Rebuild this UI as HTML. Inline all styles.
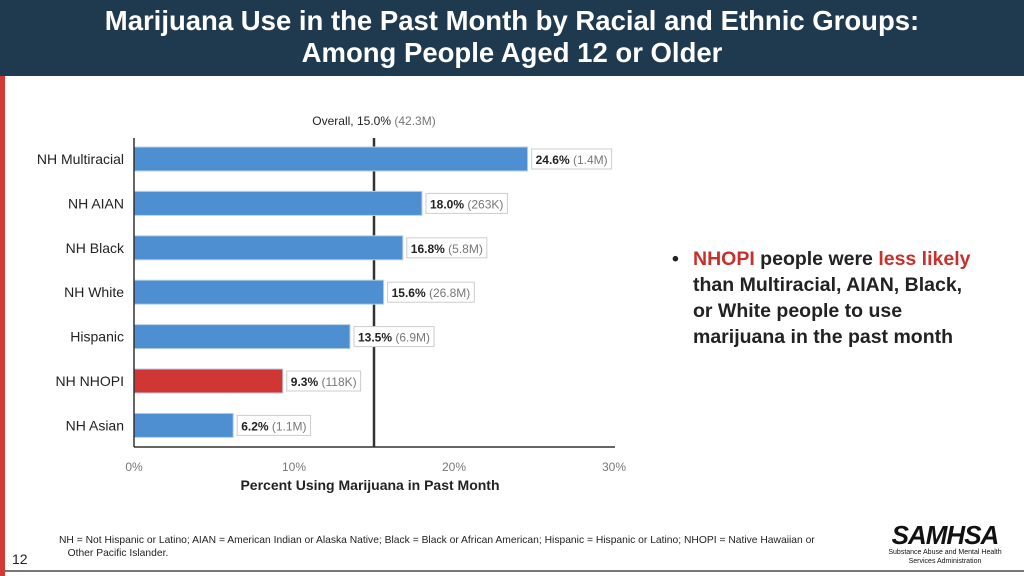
<!DOCTYPE html>
<html><head><meta charset="utf-8"><style>
body{margin:0;width:1024px;height:576px;overflow:hidden;background:#fff;font-family:"Liberation Sans",sans-serif;position:relative}
#hdr{position:absolute;left:0;top:0;width:1024px;height:76px;background:#1f3a4e;color:#fff;text-align:center;font-size:27.5px;font-weight:bold;line-height:32px;padding-top:5px;box-sizing:border-box}
#redbar{position:absolute;left:0;top:0;width:5px;height:576px;background:#d13a35}
#bullet{position:absolute;left:672px;top:246px;width:300px;font-size:19.5px;font-weight:bold;color:#222;line-height:26px}
#foot{position:absolute;left:59px;top:534px;font-size:10.3px;color:#222;width:820px;line-height:13px}
</style></head><body>
<div id="redbar"></div>
<div id="hdr">Marijuana Use in the Past Month by Racial and Ethnic Groups:<br>Among People Aged 12 or Older</div>
<svg id="chart" width="1024" height="576" style="position:absolute;left:0;top:0"></svg>
<div id="bullet">
<div style="position:absolute;left:0;top:0">•</div>
<div style="margin-left:21px"><span style="color:#c8302b">NHOPI</span> people were <span style="color:#c8302b">less likely</span><br>than Multiracial, AIAN, Black,<br>or White people to use<br>marijuana in the past month</div></div>
<div id="foot">NH = Not Hispanic or Latino; AIAN = American Indian or Alaska Native; Black = Black or African American; Hispanic = Hispanic or Latino; NHOPI = Native Hawaiian or<br>&nbsp;&nbsp;&nbsp;Other Pacific Islander.</div>
<div style="position:absolute;left:12px;top:551px;font-size:14px;color:#222">12</div>
<div style="position:absolute;left:880px;top:522px;width:130px;text-align:center;color:#111">
<div style="font-size:26px;font-weight:bold;font-style:italic;letter-spacing:-1px;line-height:26px">SAMHSA</div>
<div style="font-size:7px;line-height:9px">Substance Abuse and Mental Health<br>Services Administration</div></div>
<div style="position:absolute;left:5px;top:570px;width:1019px;height:2px;background:#777"></div>
<script>
const categories=["NH Multiracial","NH AIAN","NH Black","NH White","Hispanic","NH NHOPI","NH Asian"];
const values=[24.6,18.0,16.8,15.6,13.5,9.3,6.2];
const counts=["1.4M","263K","5.8M","26.8M","6.9M","118K","1.1M"];
const ticks=[0,10,20,30];
const overall=15.0;
const overallCount="42.3M";
const NS="http://www.w3.org/2000/svg";
const svg=document.getElementById('chart');
const x=v=>134+v*16;
const y=i=>159+i*44.4;
function mk(t,a,p){const e=document.createElementNS(NS,t);for(const k in a)e.setAttribute(k,a[k]);(p||svg).appendChild(e);return e;}
const ol=mk('line',{x1:x(overall),x2:x(overall),y1:138,y2:447,stroke:"#333","stroke-width":2.5});


const ot=mk('text',{x:x(overall),y:125,"text-anchor":"middle","font-size":12,fill:"#222"});


ot.innerHTML='Overall, '+overall.toFixed(1)+'% <tspan fill="#777">('+overallCount+')</tspan>';
categories.forEach((c,i)=>{
 const b=mk('rect',{x:x(0),y:y(i)-12,width:x(values[i])-x(0),height:24,fill:c==="NH NHOPI"?"#cf3634":"#4d8fd0",stroke:"#b9cfe6","stroke-width":1});
 
 
 const l=mk('text',{x:124,y:y(i)+5,"text-anchor":"end","font-size":14,fill:"#222"});l.textContent=c;
 
 
 const bx=x(values[i])+4;
 const r=mk('rect',{x:bx,y:y(i)-10,width:10,height:20,fill:"#fff",stroke:"#ccc"});
 const t=mk('text',{x:bx+4,y:y(i)+5,"font-size":12,fill:"#222","font-weight":"bold"});
 
 
 const s1=mk('tspan',{},t);s1.textContent=values[i].toFixed(1)+"% ";
 const s2=mk('tspan',{fill:"#777","font-weight":"normal"},t);s2.textContent="("+counts[i]+")";
 r.setAttribute('width',t.getComputedTextLength()+8);
});
mk('line',{x1:134,x2:134,y1:138,y2:447,stroke:"#333","stroke-width":1.5});
const xa=mk('line',{x1:134,x2:615,y1:447,y2:447,stroke:"#333","stroke-width":1.5});


ticks.forEach(v=>{const t=mk('text',{x:x(v),y:471,"text-anchor":"middle","font-size":12,fill:"#777"});t.textContent=v+"%";
 
 });
const at=mk('text',{x:370,y:490,"text-anchor":"middle","font-size":14,"font-weight":"bold",fill:"#222"});
at.textContent="Percent Using Marijuana in Past Month";


</script>
</body></html>
